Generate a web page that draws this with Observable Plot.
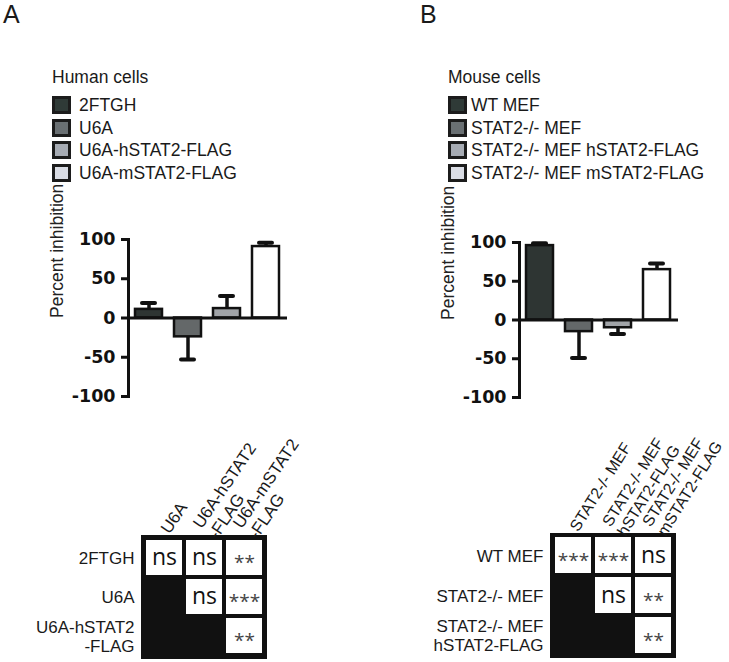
<!DOCTYPE html>
<html><head><meta charset="utf-8">
<script src="https://cdn.jsdelivr.net/npm/d3@7"></script>
<script src="https://cdn.jsdelivr.net/npm/@observablehq/plot@0.6"></script>
<style>
body{margin:0;background:#fff;}
#root{position:relative;width:729px;height:662px;overflow:hidden;font-family:"Liberation Sans",Arial,sans-serif;color:#1a1a1a;background:#fff;}
.lbl{position:absolute;font-size:17.5px;line-height:17px;white-space:nowrap;}
.sw{position:absolute;width:13px;height:12px;border:3px solid #1c1c1c;}
.letter{position:absolute;font-size:25px;line-height:24px;}
</style></head><body><div id="root"></div>
<script>
// ---- data ----
const humanCells = ["2FTGH", "U6A", "U6A-hSTAT2-FLAG", "U6A-mSTAT2-FLAG"];
const humanValues = [11, -24, 12, 91];
const humanErrors = [8, 29, 16, 5];
const mouseCells = ["WT MEF", "STAT2-/- MEF", "STAT2-/- MEF hSTAT2-FLAG", "STAT2-/- MEF mSTAT2-FLAG"];
const mouseValues = [96, -15, -10, 65];
const mouseErrors = [3, 34, 8, 8];
const yTicks = [-100, -50, 0, 50, 100];
const humanRows = ["2FTGH", "U6A", "U6A-hSTAT2\n-FLAG"];
const humanCols = ["U6A", "U6A-hSTAT2\n-FLAG", "U6A-mSTAT2\n-FLAG"];
const humanSig = [["ns", "ns", "**"], [null, "ns", "***"], [null, null, "**"]];
const mouseRows = ["WT MEF", "STAT2-/- MEF", "STAT2-/- MEF\nhSTAT2-FLAG"];
const mouseCols = ["STAT2-/- MEF", "STAT2-/- MEF\nhSTAT2-FLAG", "STAT2-/- MEF\nmSTAT2-FLAG"];
const mouseSig = [["***", "***", "ns"], [null, "ns", "**"], [null, null, "**"]];
// ---- styles ----
const barFills = ["#2e3533", "#646869", "#a1a4a8", "#ffffff"];
const swatchFills = ["#2f3a37", "#6a7073", "#a7acb4", "#d9dce4"];
const INK = "#111";

const root = document.getElementById("root");
function place(el, left, top) { el.style.position = "absolute"; el.style.left = left + "px"; el.style.top = top + "px"; root.appendChild(el); return el; }
function div(cls, text) { const d = document.createElement("div"); d.className = cls; if (text != null) d.textContent = text; return d; }

// panel letters
place(div("letter", "A"), 3, 2);
place(div("letter", "B"), 420, 2);

// legends
function legend(title, names, left, gap) {
  place(div("lbl", title), left, 69);
  names.forEach((n, i) => {
    const top = 96 + i * 22.7;
    const s = div("sw"); s.style.background = swatchFills[i];
    place(s, left, top);
    place(div("lbl", n), left + 19 + gap, top + 1);
  });
}
legend("Human cells", humanCells, 52, 8);
legend("Mouse cells", mouseCells, 448, 4);

function barChart(cells, values, errors, left, top, innerH) {
  const data = cells.map((c, i) => ({cell: c, value: values[i], end: values[i] + Math.sign(values[i]) * errors[i]}));
  const svg = Plot.plot({
    width: 90 + 159 + 10, height: 10 + innerH + 10,
    marginLeft: 90, marginRight: 10, marginTop: 10, marginBottom: 10,
    x: {domain: cells, paddingInner: 0.3, paddingOuter: 0.15, axis: null},
    y: {domain: [-100, 100], axis: null},
    color: {domain: cells, range: barFills},
    style: {background: "transparent", overflow: "visible", fontFamily: "Liberation Sans"},
    marks: [
      Plot.barY(data, {x: "cell", y: "value", fill: "cell", stroke: INK, strokeWidth: 2.5}),
      Plot.ruleX(data, {x: "cell", y1: "value", y2: "end", stroke: INK, strokeWidth: 3.5}),
      Plot.tickY(data, {x: "cell", y: "end", stroke: INK, strokeWidth: 4, insetLeft: 7, insetRight: 7, strokeLinecap: "round"}),
      Plot.ruleY([0], {stroke: INK, strokeWidth: 3}),
      Plot.frame({anchor: "left", stroke: INK, strokeWidth: 3}),
      Plot.axisY({ticks: yTicks, tickFormat: d => String(d), tickSize: 7, tickPadding: 6, strokeWidth: 3, stroke: INK, fill: INK,
        fontSize: 17.5, fontWeight: "bold", fontFamily: "DejaVu Sans", label: null}),
      Plot.text(["Percent inhibition"], {text: d => d, frameAnchor: "left", rotate: -90, dx: -71,
        fontSize: 17.5, fill: "#222", fontFamily: "Liberation Sans"})
    ]
  });
  return place(svg, left, top);
}
barChart(humanCells, humanValues, humanErrors, 128 - 90, 239 - 10, 157);
barChart(mouseCells, mouseValues, mouseErrors, 519 - 90, 242 - 10, 155);

function matrix(rows, cols, sig, left, top, mL, mT, mR, w, h, colFont, rot) {
  const cells = [];
  rows.forEach((r, i) => cols.forEach((c, j) => { if (sig[i][j]) cells.push({row: r, col: c, sig: sig[i][j]}); }));
  const svg = Plot.plot({
    width: mL + w + mR, height: mT + h + 4,
    marginLeft: mL, marginTop: mT, marginRight: mR, marginBottom: 4,
    x: {domain: cols, paddingInner: 0.1, paddingOuter: 0.1, axis: null},
    y: {domain: rows, paddingInner: 0.1, paddingOuter: 0.1, axis: null},
    style: {background: "transparent", overflow: "visible", fontFamily: "Liberation Sans"},
    marks: [
      Plot.frame({fill: INK, stroke: INK}),
      Plot.cell(cells, {x: "col", y: "row", fill: "white"}),
      Plot.text(cells.filter(d => d.sig === "ns"), {x: "col", y: "row", text: "sig", fontSize: 23, fontFamily: "Open Sans", fill: INK}),
      Plot.text(cells.filter(d => d.sig !== "ns"), {x: "col", y: "row", text: "sig", fontSize: 19, dy: 5, fontFamily: "Open Sans", fill: "#444"}),
      Plot.axisX({anchor: "top", tickSize: 0, tickPadding: 4, tickRotate: rot, fontSize: colFont, lineHeight: 1.1, fill: "#1a1a1a", label: null}),
      Plot.axisY({anchor: "left", tickSize: 0, tickPadding: 7, fontSize: 17, lineHeight: 1.12, fill: "#1a1a1a", label: null})
    ]
  });
  return place(svg, left, top);
}
matrix(humanRows, humanCols, humanSig, 141 - 140, 535 - 125, 140, 125, 10, 125, 123, 17, -56);
matrix(mouseRows, mouseCols, mouseSig, 550 - 200, 533 - 130, 200, 130, 54, 125, 124, 16, -58);
</script></body></html>
